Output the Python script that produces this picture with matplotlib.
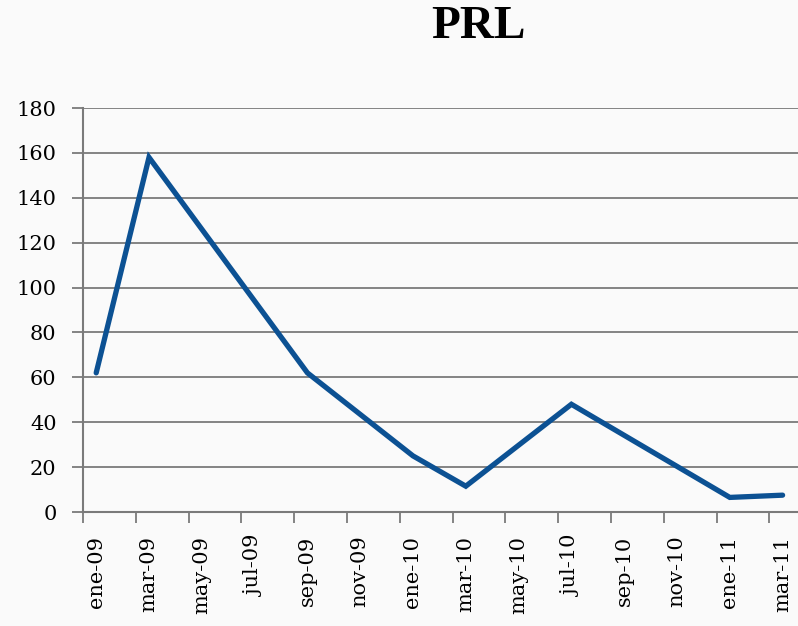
import matplotlib
matplotlib.use("Agg")
import matplotlib.pyplot as plt
from matplotlib.ticker import FixedLocator, NullFormatter, FixedFormatter

title = "PRL"
tick_labels = ["ene-09", "mar-09", "may-09", "jul-09", "sep-09", "nov-09", "ene-10",
               "mar-10", "may-10", "jul-10", "sep-10", "nov-10", "ene-11", "mar-11"]
point_dates = ["ene-09", "mar-09", "sep-09", "ene-10", "mar-10", "jul-10", "ene-11", "mar-11"]
prl_values = [62, 158, 62, 25, 11.5, 48, 6.5, 7.5]
y_ticks = [0, 20, 40, 60, 80, 100, 120, 140, 160, 180]

# month index for each point (labels are spaced two months apart)
x_points = [tick_labels.index(d) * 2 for d in point_dates]
x_label_pos = [i * 2 for i in range(len(tick_labels))]
x_bounds = [i * 2 - 0.5 for i in range(len(tick_labels) + 1)]

W, H = 798, 626
fig = plt.figure(figsize=(W / 100, H / 100), dpi=100)
fig.patch.set_facecolor("#fafafa")

left = 83 / W
bottom = (H - 512) / H
top = (H - 108) / H
ax = fig.add_axes([left, bottom, 1.0 - left, top - bottom])
ax.set_facecolor("none")

ax.plot(x_points, prl_values, color="#0c5193", lw=3.8, solid_joinstyle="miter",
        solid_capstyle="round", zorder=3)

ax.set_ylim(0, 180)
ax.set_xlim(-0.5, -0.5 + (W - 83) / 26.4)
ax.set_yticks(y_ticks)
ax.set_yticklabels([str(v) for v in y_ticks], fontsize=15, family="DejaVu Serif")
ax.yaxis.grid(True, color="#7a7a7a", lw=1.3)
ax.set_axisbelow(True)

ax.xaxis.set_major_locator(FixedLocator(x_bounds))
ax.xaxis.set_major_formatter(NullFormatter())
ax.xaxis.set_minor_locator(FixedLocator(x_label_pos))
ax.xaxis.set_minor_formatter(FixedFormatter(tick_labels))
ax.tick_params(axis="x", which="major", length=8, width=1.3, color="#7a7a7a")
ax.tick_params(axis="x", which="minor", length=0, pad=17, labelrotation=90,
               labelsize=15)
for lab in ax.get_xticklabels(minor=True):
    lab.set_family("DejaVu Serif")
    lab.set_va("top")
ax.tick_params(axis="y", length=8, width=1.3, color="#7a7a7a", pad=11)

for s in ["top", "right"]:
    ax.spines[s].set_visible(False)
for s in ["left", "bottom"]:
    ax.spines[s].set_color("#7a7a7a")
    ax.spines[s].set_linewidth(1.5)

fig.text(478 / W, 1 - 27 / H, title, ha="center", va="center", fontsize=34,
         fontweight="bold", family="Liberation Serif")

fig.savefig("out.png", dpi=100, facecolor=fig.get_facecolor())
